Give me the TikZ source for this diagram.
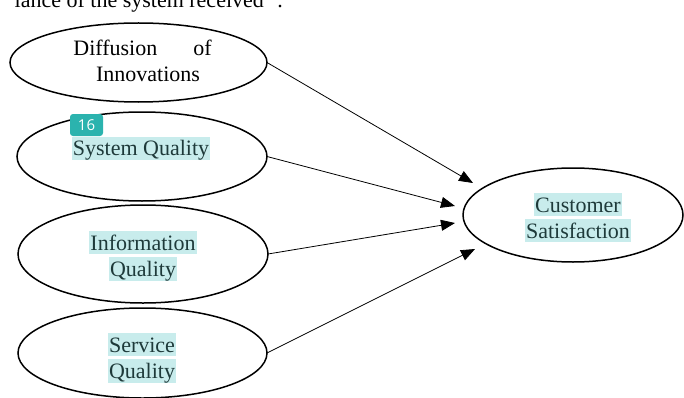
\documentclass[tikz,border=0pt]{standalone}
\usepackage{fontspec}
\setmainfont{Liberation Serif}
\newfontfamily\badgefont{Open Sans}
\usepackage{xcolor}
\usepackage{tikz}
\usetikzlibrary{positioning,arrows.meta,shapes.geometric}
\definecolor{HiCyan}{HTML}{C8ECEC}
\definecolor{DarkTeal}{HTML}{1E3A3A}
\definecolor{BadgeTeal}{HTML}{2BB3AE}
\newcommand{\hilite}[1]{{\setlength{\fboxsep}{0pt}\colorbox{HiCyan}{\kern1pt\rule[-4pt]{0pt}{23pt}#1\kern1pt}}}

\begin{document}
\begin{tikzpicture}[
  x=1pt, y=1pt,
  >={Triangle[length=14pt,width=11pt]},
  construct/.style={
    draw=black, line width=1.5pt, ellipse, inner sep=0pt, outer sep=0pt
  },
  lbl/.style={
    font=\fontsize{22}{26}\selectfont, align=center, inner sep=0pt,
    text=DarkTeal
  },
  link/.style={->, draw=black, line width=0.8pt},
  badge/.style={
    fill=BadgeTeal, text=white, rounded corners=3pt, inner sep=0pt,
    minimum width=33pt, minimum height=22pt,
    font=\badgefont\fontsize{15}{15}\selectfont
  },
]
\useasboundingbox (0,0) rectangle (684,397);
\clip (0,0) rectangle (684,397);

% ---------- Running text (cut at the top) ----------
\node[anchor=base east, inner sep=0pt, font=\fontsize{22}{26}\selectfont]
  (prev) at (283,389) {iance of the system received”\,.};

% ---------- Constructs (left column) ----------
\node[construct, minimum width=257pt, minimum height=79pt] (dif)  at (138.5,334.5) {};
\node[construct, minimum width=250pt, minimum height=89pt] (sysq) at (142,240.5) {};
\node[construct, minimum width=250pt, minimum height=98pt] (infq) at (143,143) {};
\node[construct, minimum width=249pt, minimum height=90pt] (serq) at (142.5,44) {};
% Dependent construct (right)
\node[construct, minimum width=220pt, minimum height=94pt] (cust) at (573,182) {};

% ---------- Texts ----------
\node[lbl, text=black] (dif_txt) at (142.5,336) {Diffusion\hspace{36pt}of\\\hspace*{11pt}Innovations};
\node[lbl] (sysq_txt) at (141,248.5) {\hilite{System Quality}};
\node[lbl] (infq_txt) at (143,141) {\hilite{Information}\\\hilite{Quality}};
\node[lbl] (serq_txt) at (142,39) {\hilite{Service}\\\hilite{Quality}};
\node[lbl] (cust_txt) at (578,179.5) {\hilite{Customer}\\\hilite{Satisfaction}};

% ---------- Paths ----------
\coordinate (tip1) at (473,214);
\coordinate (tip2) at (455,191);
\coordinate (tip3) at (455,174);
\coordinate (tip4) at (475,148);
\draw[link] (dif.east)  -- (tip1);
\draw[link] (sysq.east) -- (tip2);
\draw[link] (infq.east) -- (tip3);
\draw[link] (serq.east) -- (tip4);

% ---------- Marker ----------
\node[badge] (mark) at (86.5,272) {16};

\end{tikzpicture}
\end{document}
